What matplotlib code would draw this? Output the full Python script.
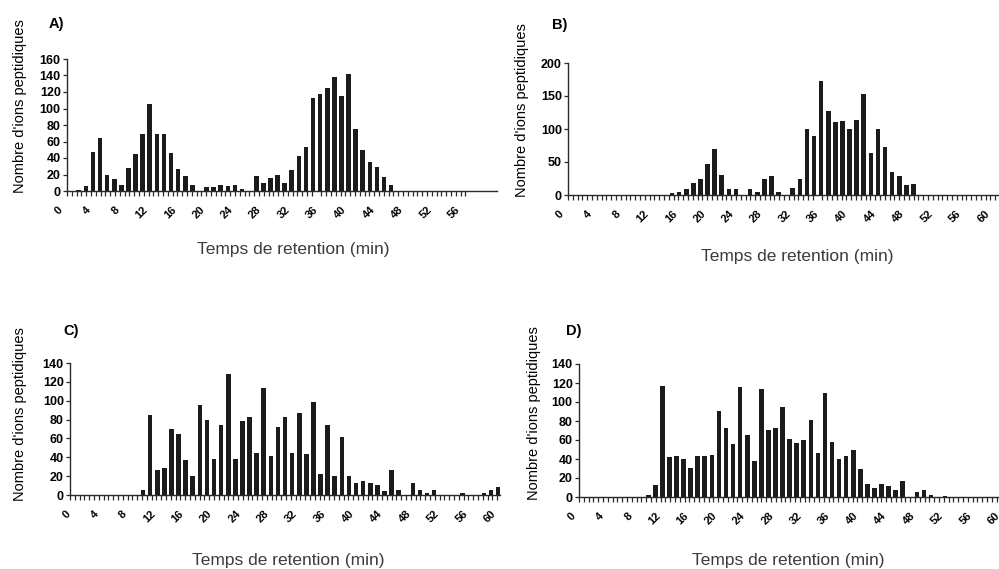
import numpy as np
import matplotlib
matplotlib.use("Agg")
import matplotlib.pyplot as plt

plt.rcParams['font.family'] = ['Liberation Sans', 'DejaVu Sans']

# nombre d'ions peptidiques par tranche d'une minute (depuis 0 min)
ions_a = [0, 0, 1, 6, 47, 64, 20, 15, 7, 28, 45, 69, 105, 69, 69, 46, 27, 18, 7, 0,
          5, 5, 7, 6, 7, 2, 0, 18, 10, 16, 20, 10, 26, 42, 53, 113, 117, 125, 138, 115,
          142, 75, 50, 35, 29, 17, 7]
ions_b = [0, 0, 0, 0, 0, 0, 0, 0, 0, 0, 0, 0, 0, 0, 0, 3, 5, 9, 18, 25,
          47, 70, 30, 9, 9, 0, 9, 5, 25, 29, 5, 0, 11, 25, 100, 89, 173, 128, 110, 112,
          100, 114, 153, 63, 100, 72, 35, 29, 15, 16]
ions_c = [0, 0, 0, 0, 0, 0, 0, 0, 0, 0, 5, 85, 26, 29, 70, 65, 37, 20, 95, 80,
          38, 74, 128, 38, 79, 83, 45, 113, 41, 72, 83, 45, 87, 44, 99, 22, 74, 20, 62, 20,
          13, 15, 13, 11, 4, 27, 5, 0, 13, 5, 2, 5, 0, 0, 0, 2, 0, 0, 2, 5, 9]
ions_d = [0, 0, 0, 0, 0, 0, 0, 0, 0, 0, 2, 13, 117, 42, 43, 40, 31, 43, 43, 44,
          91, 73, 56, 116, 65, 38, 114, 71, 73, 95, 61, 57, 60, 81, 46, 110, 58, 40, 43, 50,
          30, 14, 10, 14, 12, 7, 17, 0, 5, 7, 2, 0, 1]

y_max = {'A': 160, 'B': 200, 'C': 140, 'D': 140}
y_step = {'A': 20, 'B': 50, 'C': 20, 'D': 20}
x_label_max = {'A': 56, 'B': 60, 'C': 60, 'D': 60}

ylabel = "Nombre d'ions peptidiques"
xlabel = "Temps de retention (min)"

W, H = 999, 569
fig = plt.figure(figsize=(W / 100, H / 100), dpi=100)
bar_col = '#1b1b1b'
ax_col = '#2a2a2a'

# pixel geometry: t0, px per min, spine x, right x, tick end x, zero y, top y
geom = {
    'A': (61, 7.1, 67, 497, 468, 191, 59),
    'B': (562, 7.1, 568, 999, 999, 195, 63),
    'C': (68.5, 7.1, 70, 500, 500, 495, 363),
    'D': (574, 7.07, 579, 999, 999, 497, 364),
}


def panel(key, counts):
    t0, ppm, spine_px, right_px, tend_px, zero_px, top_px = geom[key]
    xl = -0.8
    left_px = t0 + xl * ppm
    xr = (right_px - t0) / ppm
    spine_m = (spine_px - t0) / ppm
    tend_m = (tend_px - t0) / ppm
    ax = fig.add_axes([left_px / W, (H - zero_px) / H,
                       (right_px - left_px) / W, (zero_px - top_px) / H])
    minutes = np.arange(len(counts))
    ax.bar(minutes + 0.5, counts, width=0.65, color=bar_col, linewidth=0)
    ax.set_xlim(xl, xr)
    ax.set_ylim(0, y_max[key])
    for s in ['top', 'right']:
        ax.spines[s].set_visible(False)
    ax.spines['left'].set_position(('data', spine_m))
    ax.spines['bottom'].set_bounds(spine_m, xr)
    for s in ['left', 'bottom']:
        ax.spines[s].set_color(ax_col)
        ax.spines[s].set_linewidth(1.0)
    ax.set_yticks(np.arange(0, y_max[key] + 1, y_step[key]))
    ax.tick_params(axis='y', length=3, width=0.9, pad=1.5, color=ax_col,
                   labelsize=9)
    for t in ax.get_yticklabels():
        t.set_fontweight('bold')
    xt = np.arange(0, x_label_max[key] + 1, 4)
    ax.set_xticks(xt)
    ax.set_xticklabels([str(v) for v in xt], rotation=45, ha='right', va='center',
                       rotation_mode='anchor', fontsize=8, fontweight='bold')
    ax.set_xticks(np.arange(spine_m, tend_m, 4.8 / ppm), minor=True)
    ax.tick_params(axis='x', which='major', length=0, pad=12.5)
    ax.tick_params(axis='x', which='minor', length=3.5, width=0.9, color=ax_col)
    ax.patch.set_alpha(0)
    return ax


panel('A', ions_a)
panel('B', ions_b)
panel('C', ions_c)
panel('D', ions_d)


def ftext(x, y, s, **kw):
    fig.text(x / W, 1 - y / H, s, **kw)


for key, (lx, ly) in {'A': (56, 24), 'B': (560, 25), 'C': (71, 331), 'D': (574, 331)}.items():
    ftext(lx, ly, key + ')', fontsize=10.5, fontweight='bold', ha='center', va='center')

for (yx, yy) in [(20, 106), (522, 110), (20, 414), (534, 413)]:
    ftext(yx, yy, ylabel, fontsize=10.5, rotation=90, ha='center', va='center')

for (tx, ty) in [(293, 250), (797, 256), (288, 560), (788, 560)]:
    ftext(tx, ty, xlabel, fontsize=12.5, color='#3c3c3c', ha='center', va='center')

fig.savefig('out.png', dpi=100)
